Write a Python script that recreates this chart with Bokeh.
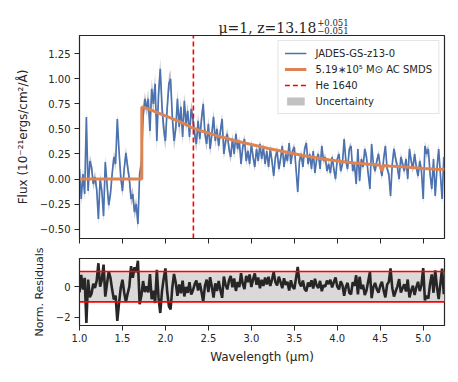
import numpy as np
from bokeh.plotting import figure
from bokeh.layouts import column
from bokeh.models import (Range1d, FixedTicker, CustomJSTickFormatter, Legend, LegendItem,
                          Label, Span, BoxAnnotation, ColumnDataSource)
from bokeh.embed import file_html
from bokeh.resources import INLINE

# ---------------- data ----------------
wave_start = 1.00          # micron, first sample
wave_step = 0.02           # micron, sampling of the spectrum

flux_a = [0.10, -0.20, 0.05, -0.15, 0.62, -0.12, 0.18, 0.12, -0.05, 0.02,
          -0.10, -0.40, 0.00, -0.12, -0.37, 0.17, -0.05, -0.26, -0.15, 0.05,
          0.22, 0.15, 0.60, 0.28, 0.02, -0.12, 0.10, 0.26, 0.12, 0.00,
          -0.20, -0.15, -0.33, -0.25, -0.45, 0.05, 0.15]
flux_b = [0.62, 0.80, 0.70, 0.80, 0.48, 0.90, 0.75, 0.95, 0.38, 0.85,
          1.10, 0.72, 0.50, 0.38, 0.70, 0.95, 1.00, 0.62, 0.38, 0.50,
          0.80, 0.52, 0.72, 0.42, 0.78, 0.55, 0.68, 0.42, 0.70, 0.60,
          0.45, 0.35, 0.58, 0.40, 0.60, 0.75, 0.45]
flux_c = [0.35, 0.55, 0.30, 0.45, 0.62, 0.38, 0.50, 0.33, 0.48, 0.60,
          0.25, 0.38, 0.45, 0.30, 0.22, 0.40, 0.25, 0.45, 0.30, 0.38,
          0.15, 0.32, 0.40, 0.18, 0.28, 0.15, 0.35, 0.22, 0.12, 0.30,
          0.18, 0.35]
flux_d = [0.20, 0.32, 0.15, 0.28, 0.12, 0.30, 0.18, 0.03, 0.22, 0.28,
          0.10, 0.20, 0.33, 0.12, 0.25, 0.18, 0.36, 0.15, 0.28, 0.32,
          0.10, -0.13, 0.18, 0.25, 0.12, 0.30, 0.36, 0.15, 0.25, 0.10,
          0.28, 0.06, 0.20, 0.25, 0.10, 0.33, 0.18, 0.22, 0.08, 0.15,
          0.06, 0.22, 0.10, 0.00, 0.20, 0.25, 0.08, 0.15, 0.40, 0.18,
          0.10, 0.30, 0.33, 0.08, 0.15, -0.05]
flux_e = [0.30, -0.02, 0.20, 0.12, 0.30, 0.22, 0.05, -0.10, 0.35, 0.15,
          0.08, 0.18, 0.25, 0.12, 0.03, 0.20, 0.33, 0.10, 0.05, -0.17,
          0.15, 0.30, 0.20, 0.12, 0.00, 0.22, 0.15, 0.08, 0.20, 0.00,
          0.30, 0.18, 0.10, 0.25, 0.12, 0.03, 0.18, 0.08, -0.20, 0.33,
          0.25, 0.30, 0.05, -0.10, 0.20, -0.17, 0.10, 0.30, 0.05, -0.20,
          0.22]

# 1-sigma uncertainty, one value per 0.2 micron bin starting at 1.0
err_bins = [0.06, 0.06, 0.06, 0.07, 0.10, 0.09, 0.08, 0.07, 0.06, 0.05, 0.045,
            0.045, 0.04, 0.04, 0.04, 0.04, 0.04, 0.04, 0.045, 0.045, 0.05, 0.05]
err_bin_len = 10

# normalised residuals on the same sampling
res_a = [-0.38, 0.77, -0.19, 0.58, -2.38, 0.46, -0.69, -0.46, 0.19, -0.08,
         0.38, 1.54, 0.00, 0.46, 1.45, -0.65, 0.19, 1.00, 0.58, -0.19,
         -0.85, -0.58, -2.25, -1.08, -0.08, 0.46, -0.38, -1.00, -0.46, 0.00,
         1.35, 0.58, 1.27, 0.96, 1.70, -1.15, -0.58]
res_b = [0.37, -0.35, 0.02, -0.38, 0.82, -0.82, -0.27, -1.07, 1.10, -0.74,
         -1.73, -0.29, 0.53, 1.20, -0.30, -1.28, -1.50, -0.07, 0.83, 0.25,
         -0.60, 0.15, -0.43, 0.39, -0.64, -0.02, -0.41, 0.29, -0.52, -0.25,
         0.15, 0.41, -0.25, 0.24, -0.34, -1.00, 0.06]
res_c = [0.46, -0.36, 0.62, -0.01, -0.71, 0.22, -0.28, 0.38, -0.23, -0.73,
         0.66, 0.12, -0.18, 0.40, 0.70, -0.04, 0.54, -0.28, 0.31, -0.03,
         0.88, 0.18, -0.16, 0.71, 0.29, 0.80, -0.02, 0.48, 0.87, 0.13,
         0.60, -0.10]
res_d = [0.45, 0.05, 0.60, 0.15, 0.65, 0.05, 0.45, 0.95, 0.30, 0.08,
         0.65, 0.30, -0.10, 0.55, 0.12, 0.32, -0.25, 0.42, 0.00, -0.15,
         0.55, 1.30, 0.25, 0.02, 0.40, -0.15, -0.30, 0.28, 0.00, 0.42,
         -0.12, 0.52, 0.08, -0.08, 0.38, -0.30, 0.10, 0.00, 0.40, 0.17,
         0.45, -0.05, 0.30, 0.60, 0.00, -0.18, 0.35, 0.10, -0.60, 0.00,
         0.25, -0.40, -0.50, 0.30, 0.05, 0.75]
res_e = [-0.50, 0.65, -0.15, 0.13, -0.55, -0.25, 0.35, 0.95, -0.75, -0.03,
         0.25, -0.16, -0.40, 0.07, 0.33, -0.26, -0.70, 0.13, 0.32, 1.20,
         -0.09, -0.65, -0.30, 0.02, 0.50, -0.39, -0.11, 0.16, -0.32, 0.47,
         -0.70, -0.26, 0.06, -0.55, -0.04, 0.32, -0.29, 0.11, 1.22, -0.90,
         -0.59, -0.79, 0.20, 0.80, -0.40, 1.07, -0.01, -0.81, 0.18, 1.18,
         -0.50]

# SMDS model curve
model_wave = [1.00, 1.725, 1.725, 1.80, 1.90, 2.00, 2.10, 2.20, 2.30, 2.40, 2.50,
              2.60, 2.70, 2.80, 2.90, 3.00, 3.20, 3.40, 3.60, 3.80, 4.00, 4.20,
              4.40, 4.50, 4.515, 4.525, 4.54, 4.60, 4.80, 5.00, 5.20, 5.25]
model_flux = [0.0, 0.0, 0.72, 0.70, 0.665, 0.63, 0.595, 0.56, 0.515, 0.485, 0.46,
              0.43, 0.41, 0.385, 0.365, 0.345, 0.305, 0.27, 0.235, 0.205, 0.18, 0.16,
              0.145, 0.137, 0.09, 0.09, 0.135, 0.13, 0.12, 0.105, 0.095, 0.10]

he1640_um = 2.3255
res_limits = [-1.0, 1.0]

x_lim = [1.0, 5.248]
flux_lim = [-0.594, 1.433]
res_lim = [-2.55, 1.85]
x_ticks = [1.0, 1.5, 2.0, 2.5, 3.0, 3.5, 4.0, 4.5, 5.0]
flux_ticks = [-0.5, -0.25, 0.0, 0.25, 0.5, 0.75, 1.0, 1.25]
res_ticks = [-2, 0]

title_main = "\u03bc=1, z=13.18"
title_sup = "+0.051"
title_sub = "\u22120.051"

# ---------------- assemble ----------------
flux = np.array(flux_a + flux_b + flux_c + flux_d + flux_e)
res = np.array(res_a + res_b + res_c + res_d + res_e)
wave = np.round(wave_start + wave_step * np.arange(len(flux)), 3)
err = np.repeat(err_bins, err_bin_len)[:len(flux)]

src = ColumnDataSource(dict(wave=wave, flux=flux, lo=flux - err, hi=flux + err, res=res))

INK = "#262626"
FONT = "DejaVu Sans"
LEFT = 79
RIGHT = 6
FRAME_W = 365
HEAD_W = LEFT + FRAME_W + RIGHT
HEAD_H = 35


def style(p):
    p.outline_line_color = INK
    p.outline_line_width = 1.2
    p.grid.visible = False
    p.background_fill_color = "white"
    p.border_fill_color = "white"
    for ax in p.axis:
        ax.major_tick_out = 5
        ax.major_tick_in = 0
        ax.minor_tick_line_color = None
        ax.axis_line_color = INK
        ax.major_tick_line_color = INK
        ax.major_label_text_font = FONT
        ax.major_label_text_font_size = "10px"
        ax.major_label_text_color = INK
        ax.axis_label_text_font = FONT
        ax.axis_label_text_font_size = "12px"
        ax.axis_label_text_font_style = "normal"
        ax.axis_label_text_color = INK
        ax.major_label_standoff = 4


# ---- title strip (pixel-sized ranges, so positions below are pixels) ----
head = figure(width=HEAD_W, height=HEAD_H, x_axis_type=None, y_axis_type=None,
              output_backend="svg", toolbar_location=None, min_border=0,
              x_range=Range1d(0, HEAD_W), y_range=Range1d(0, HEAD_H))
head.outline_line_color = None
head.grid.visible = False
head.add_layout(Label(x=292, y=8, text=title_main, text_align="right",
                      text_baseline="alphabetic", text_font="DejaVu Serif",
                      text_font_size="14px", text_color=INK))
head.add_layout(Label(x=293, y=13, text=title_sup, text_align="left",
                      text_baseline="alphabetic", text_font="DejaVu Serif",
                      text_font_size="8.5px", text_color=INK))
head.add_layout(Label(x=293, y=5, text=title_sub, text_align="left",
                      text_baseline="alphabetic", text_font="DejaVu Serif",
                      text_font_size="8.5px", text_color=INK))

# ---- spectrum panel ----
x_range = Range1d(*x_lim)

top = figure(frame_width=FRAME_W, frame_height=203, x_range=x_range,
             y_range=Range1d(*flux_lim), output_backend="svg", toolbar_location=None,
             min_border_left=LEFT, min_border_right=RIGHT, min_border_top=0,
             min_border_bottom=6)
style(top)

band = top.varea(x="wave", y1="lo", y2="hi", source=src, fill_color="#c2c2c2", fill_alpha=1.0)
spec = top.line("wave", "flux", source=src, line_color="#4c72b0", line_width=1.7)
model = top.line(model_wave, model_flux, line_color="#dd8452", line_width=3)
he = top.line([he1640_um, he1640_um], flux_lim, line_color="red", line_dash="5 3", line_width=1.6)

top.xaxis.ticker = FixedTicker(ticks=x_ticks)
top.xaxis.formatter = CustomJSTickFormatter(code="return ''")
top.xaxis.major_label_standoff = 0
top.yaxis.ticker = FixedTicker(ticks=flux_ticks)
top.yaxis.formatter = CustomJSTickFormatter(code="return tick.toFixed(2).replace('-', '\u2212')")
top.yaxis.axis_label = "Flux (10\u207b\u00b2\u00b9ergs/cm\u00b2/\u00c5)"
top.yaxis.axis_label_standoff = 7

legend = Legend(items=[
    LegendItem(label="JADES-GS-z13-0", renderers=[spec]),
    LegendItem(label="5.19\u221710\u2075 M\u2299 AC SMDS", renderers=[model]),
    LegendItem(label="He 1640", renderers=[he]),
    LegendItem(label="Uncertainty", renderers=[band]),
], location="top_right")
legend.label_text_font = FONT
legend.label_text_font_size = "10px"
legend.label_text_color = INK
legend.glyph_width = 22
legend.glyph_height = 10
legend.label_height = 12
legend.spacing = 4
legend.padding = 6
legend.margin = 5
legend.label_standoff = 9
legend.border_line_color = "#cccccc"
legend.background_fill_alpha = 0.85
top.add_layout(legend)

# ---- residual panel ----
bot = figure(frame_width=FRAME_W, frame_height=67, x_range=x_range,
             y_range=Range1d(*res_lim), output_backend="svg", toolbar_location=None,
             min_border_left=LEFT, min_border_right=RIGHT, min_border_top=14,
             min_border_bottom=10)
style(bot)
bot.add_layout(BoxAnnotation(bottom=res_limits[0], top=res_limits[1], fill_color="#d9d9d9",
                             fill_alpha=1.0, line_color=None, level="underlay"))
bot.line("wave", "res", source=src, line_color=INK, line_width=2.6)
for lim in res_limits:
    bot.add_layout(Span(location=lim, dimension="width", line_color="red", line_width=1.6))

bot.xaxis.ticker = FixedTicker(ticks=x_ticks)
bot.xaxis.formatter = CustomJSTickFormatter(code="return tick.toFixed(1)")
bot.xaxis.axis_label = "Wavelength (\u03bcm)"
bot.xaxis.major_label_standoff = 3
bot.xaxis.axis_label_standoff = 5
bot.yaxis.ticker = FixedTicker(ticks=res_ticks)
bot.yaxis.formatter = CustomJSTickFormatter(code="return tick.toFixed(0).replace('-', '\u2212')")
bot.yaxis.axis_label = "Norm. Residuals"
bot.yaxis.axis_label_text_font_size = "11px"
bot.yaxis.axis_label_standoff = 7

layout = column(head, top, bot)
open("out.html", "w").write(file_html(layout, INLINE))
